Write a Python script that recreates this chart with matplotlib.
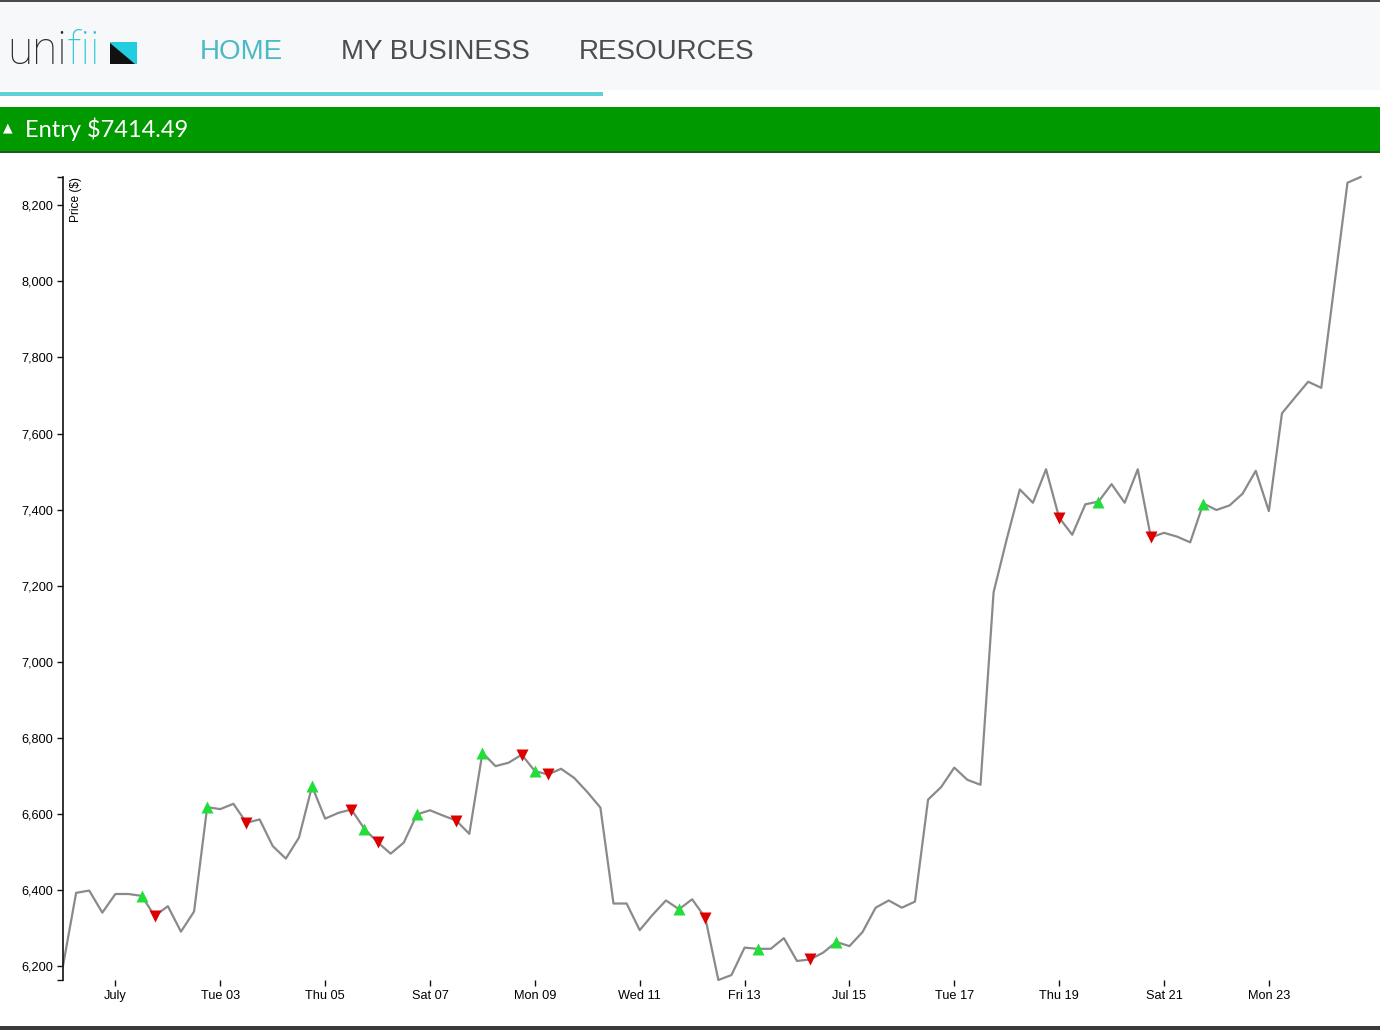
import matplotlib
matplotlib.use("Agg")
import matplotlib.pyplot as plt
from matplotlib.patches import Rectangle, Polygon
import numpy as np
import pandas as pd

# price every 6 hours, from 30 June 2018
prices = [6201, 6393, 6399, 6341, 6390, 6390, 6385, 6332, 6358, 6291,
          6344, 6618, 6613, 6627, 6577, 6586, 6516, 6483, 6538, 6673,
          6588, 6603, 6612, 6561, 6526, 6496, 6525, 6599, 6610, 6596,
          6583, 6548, 6761, 6726, 6735, 6756, 6713, 6704, 6719, 6695,
          6658, 6617, 6365, 6365, 6295, 6336, 6373, 6350, 6376, 6328,
          6164, 6177, 6249, 6246, 6246, 6274, 6214, 6218, 6236, 6264,
          6253, 6290, 6354, 6373, 6354, 6370, 6638, 6671, 6722, 6690,
          6677, 7183, 7322, 7453, 7418, 7506, 7379, 7334, 7414, 7421,
          7467, 7418, 7506, 7327, 7339, 7329, 7314, 7416, 7399, 7411,
          7442, 7502, 7396, 7653, 7695, 7736, 7720, 7990, 8259, 8274]
buy_idx = [6, 11, 19, 23, 27, 32, 36, 47, 53, 59, 79, 87]
sell_idx = [7, 14, 22, 24, 30, 35, 37, 49, 57, 76, 83]

tick_dates = ["2018-07-01", "2018-07-03", "2018-07-05", "2018-07-07",
              "2018-07-09", "2018-07-11", "2018-07-13", "2018-07-15",
              "2018-07-17", "2018-07-19", "2018-07-21", "2018-07-23"]
tick_labels = ["July", "Tue 03", "Thu 05", "Sat 07", "Mon 09", "Wed 11",
               "Fri 13", "Jul 15", "Tue 17", "Thu 19", "Sat 21", "Mon 23"]
y_ticks = [6200, 6400, 6600, 6800, 7000, 7200, 7400, 7600, 7800, 8000, 8200]

nav_items = ["HOME", "MY BUSINESS", "RESOURCES"]
nav_x = [200, 341, 579]
entry_text = "Entry $7414.49"

W, H = 1380, 1030
plt.rcParams['font.family'] = ['Liberation Sans', 'DejaVu Sans']

fig = plt.figure(figsize=(W / 100, H / 100), dpi=100)
fig.patch.set_facecolor('white')


def fx(px):
    return px / W


def fy(py):
    return 1 - py / H


def box(x0, y0, x1, y1, color):
    fig.add_artist(Rectangle((fx(x0), fy(y1)), fx(x1 - x0), (y1 - y0) / H,
                             transform=fig.transFigure, color=color, lw=0))


# page chrome
box(0, 0, W, 2, '#4a4a4a')
box(0, 2, W, 90, '#f7f8fa')
box(0, 92, 603, 96, '#5fd0d8')
box(0, 107, W, 151, '#009900')
box(0, 151, W, 153, '#1e5a1e')
box(0, 1026, W, H, '#3a3a3a')

# logo
logo_font = dict(fontsize=33, family=['Roboto', 'DejaVu Sans'], weight='light',
                 va='baseline')
t1 = fig.text(fx(7), fy(64), "uni", color='#2a2a2a', **logo_font)
fig.canvas.draw()
x_end = t1.get_window_extent().x1
fig.text(x_end / W, fy(64), "fii", color='#2fc6d6', **logo_font)
fig.add_artist(Rectangle((fx(110), fy(64)), fx(27), 22 / H,
                         transform=fig.transFigure, color='#22cde0', lw=0))
fig.add_artist(Polygon([(fx(110), fy(43)), (fx(110), fy(64)), (fx(135), fy(64))],
                       closed=True, transform=fig.transFigure, color='#111111', lw=0))

for label, x in zip(nav_items, nav_x):
    fig.text(fx(x), fy(52), label, fontsize=20, va='center', ha='left',
             color='#4cbac4' if label == "HOME" else '#4d4d4d')

fig.text(fx(3), fy(128), "\u25b2", fontsize=9, color='white', va='center',
         family=['DejaVu Sans'])
fig.text(fx(25), fy(129), entry_text, fontsize=17, color='white', va='center',
         family=['Lato', 'DejaVu Sans'])

# chart
dates = pd.date_range("2018-06-30", periods=len(prices), freq="6h")
prices = np.array(prices)

ax = fig.add_axes([fx(63), fy(980), fx(1360.6 - 63), (980 - 177) / H])
ax.plot(dates, prices, color='#8a8a8a', lw=1.6, clip_on=False, zorder=2)
ax.plot(dates[buy_idx], prices[buy_idx], '^', color='#22dd3a', ms=8, mec='none',
        clip_on=False, zorder=3)
ax.plot(dates[sell_idx], prices[sell_idx], 'v', color='#dd0000', ms=8, mec='none',
        clip_on=False, zorder=3)

ax.set_xlim(dates[0], dates[-1])
ax.set_ylim(prices.min(), prices.max())

for s in ['top', 'right', 'bottom']:
    ax.spines[s].set_visible(False)
ax.spines['left'].set_linewidth(1.2)
ax.spines['left'].set_color('#111111')

ax.set_yticks(y_ticks, ["{:,}".format(v) for v in y_ticks])
ax.set_yticks([prices.min(), prices.max()], minor=True)
ax.set_xticks(pd.to_datetime(tick_dates), tick_labels)
ax.tick_params(axis='y', which='both', length=4.3, width=1, color='#111111',
               labelsize=9.2, pad=2.5)
ax.tick_params(axis='x', length=4.3, width=1, color='#111111',
               labelsize=9.2, pad=3)
ax.annotate("Price ($)", xy=(0, 1), xycoords='axes fraction', xytext=(5, 0),
            textcoords='offset points', rotation=90, ha='left', va='top',
            fontsize=8.6)

fig.savefig("out.png", dpi=100)
